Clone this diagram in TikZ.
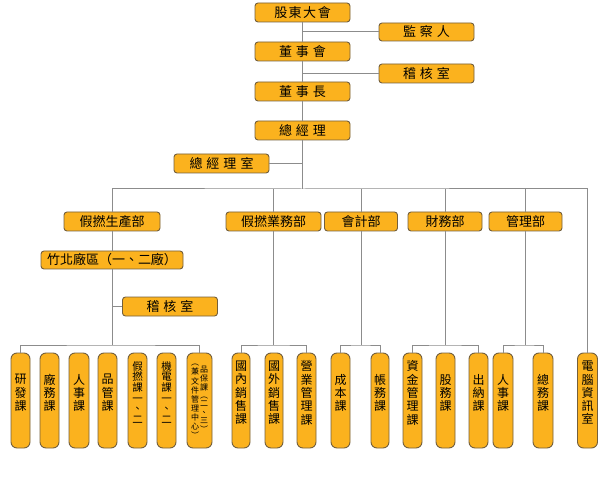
\documentclass[tikz,border=0pt]{standalone}
\usepackage{fontspec}
\setmainfont{Noto Sans CJK TC}
\definecolor{boxfill}{RGB}{251,178,30}
\definecolor{boxline}{RGB}{115,95,60}
\definecolor{linegray}{RGB}{140,140,140}
\newcommand{\gap}{\hspace{4pt}}

\begin{document}
\begin{tikzpicture}[
  x=1pt, y=-1pt,
  box/.style={
    draw=boxline, fill=boxfill, rounded corners=3pt, line width=0.9pt,
    inner sep=0pt, minimum height=19pt
  },
  topbox/.style={
    box, minimum width=95pt, font=\fontsize{13}{15}\selectfont
  },
  deptbox/.style={
    box, font=\fontsize{13}{15}\selectfont
  },
  unitbox/.style={
    box, rounded corners=6pt, minimum width=19pt, minimum height=95pt,
    align=center, font=\fontsize{12}{13.3}\selectfont,
    execute at end node={\rule[-16pt]{0pt}{16pt}}
  },
  smallunit/.style={
    unitbox, font=\fontsize{10.5}{10.7}\selectfont
  },
  wire/.style={
    draw=linegray, line width=1pt
  },
]
\useasboundingbox (0,0) rectangle (600,481);

% Board and management chain
\node[topbox] (gudong) at (302.5,12.5) {股\hspace{1.5pt}東\hspace{1.5pt}大\hspace{1.5pt}會};
\node[topbox, minimum height=18pt] (jiancha) at (426.5,32) {監\gap 察\gap 人};
\node[topbox] (dongshihui) at (302.5,51.5) {董\gap 事\gap 會};
\node[topbox] (jihe) at (426.5,73.5) {稽\gap 核\gap 室};
\node[topbox] (dongshizhang) at (302.5,91.5) {董\gap 事\gap 長};
\node[topbox] (zongjingli) at (302.5,130.5) {總\gap 經\gap 理};
\node[topbox] (zjlshi) at (221.5,163.5) {總\gap 經\gap 理\gap 室};

% Departments
\node[deptbox, minimum width=96pt] (shengchan) at (112,221.5) {假撚生產部};
\node[deptbox, minimum width=95pt] (yewu) at (273.5,221.5) {假撚業務部};
\node[deptbox, minimum width=73pt] (kuaiji) at (361,221.5) {會計部};
\node[deptbox, minimum width=74pt] (caiwu) at (445,221.5) {財務部};
\node[deptbox, minimum width=73pt] (guanli) at (525.5,221.5) {管理部};

% Production plant and its audit office
\node[deptbox, minimum width=142pt, minimum height=18pt] (zhubei) at (112,260) {竹北廠區（一、二廠）};
\node[topbox] (jihe2) at (170,306.5) {稽\gap 核\gap 室};

% Sections -- production
\node[unitbox] (yanfa) at (20.5,400.5) {研\\發\\課};
\node[unitbox] (changwu) at (49.5,400.5) {廠\\務\\課};
\node[unitbox, minimum width=20pt] (renshi1) at (79,400.5) {人\\事\\課};
\node[unitbox] (pinguan) at (107.5,400.5) {品\\管\\課};
\node[smallunit] (jianian) at (137.5,400.5) {假\\撚\\課\\一\\、\\二};
\node[smallunit] (jidian) at (166.5,400.5) {機\\電\\課\\一\\、\\二};
\node[unitbox, minimum width=25pt, font=\fontsize{8}{8.2}\selectfont] (pinbao) at (199.5,400.5) {%
  \begin{tabular}[c]{@{}c@{}}︵\\兼\\文\\件\\管\\理\\中\\心\\︶\end{tabular}\hspace{1pt}%
  \begin{tabular}[c]{@{}c@{}}品\\保\\課\\︵\\二\\、\\三\\︶\end{tabular}%
};

% Sections -- sales
\node[unitbox, minimum width=18pt] (guonei) at (241,400.5) {國\\內\\銷\\售\\課};
\node[unitbox, minimum width=18pt] (guowai) at (274,400.5) {國\\外\\銷\\售\\課};
\node[unitbox] (yingye) at (306.5,400.5) {營\\業\\管\\理\\課};

% Sections -- accounting, finance, administration
\node[unitbox] (chengben) at (340.5,400.5) {成\\本\\課};
\node[unitbox, minimum width=18pt] (zhangwu) at (380,400.5) {帳\\務\\課};
\node[unitbox] (zijin) at (412.5,400.5) {資\\金\\管\\理\\課};
\node[unitbox] (guwu) at (445.5,400.5) {股\\務\\課};
\node[unitbox] (chuna) at (478.5,400.5) {出\\納\\課};
\node[unitbox, minimum width=20pt] (renshi2) at (503,400.5) {人\\事\\課};
\node[unitbox, minimum width=20pt] (zongwu) at (543,400.5) {總\\務\\課};
\node[unitbox, minimum width=20pt] (diannao) at (587.5,400.5) {電\\腦\\資\\訊\\室};

% Connectors -- top chain
\draw[wire] (gudong.south) -- (dongshihui.north);
\draw[wire] (dongshihui.south) -- (dongshizhang.north);
\draw[wire] (dongshizhang.south) -- (zongjingli.north);
\draw[wire] (gudong.south |- jiancha.west) -- (jiancha.west);
\draw[wire] (dongshihui.south |- jihe.west) -- (jihe.west);
\draw[wire] (zjlshi.east) -- (zongjingli.south |- zjlshi.east);

% Connectors -- department bus
\coordinate (topbus) at (302.5,189);
\draw[wire] (zongjingli.south) -- (topbus);
\draw[wire] (shengchan.north) |- (topbus) -| (diannao.north);
\draw[wire] (yewu.north) -- (yewu.north |- topbus);
\draw[wire] (kuaiji.north) -- (kuaiji.north |- topbus);
\draw[wire] (caiwu.north) -- (caiwu.north |- topbus);
\draw[wire] (guanli.north) -- (guanli.north |- topbus);

% Connectors -- production
\coordinate (prodbus) at (112,345);
\draw[wire] (shengchan.south) -- (zhubei.north);
\draw[wire] (zhubei.south) -- (prodbus);
\draw[wire] (prodbus |- jihe2.west) -- (jihe2.west);
\draw[wire] (yanfa.north) |- (prodbus) -| (pinbao.north);

% Connectors -- other departments
\coordinate (salesbus) at (273.5,345);
\draw[wire] (yewu.south) -- (salesbus);
\draw[wire] (guonei.north) |- (salesbus) -| (yingye.north);
\coordinate (acctbus) at (361,345);
\draw[wire] (kuaiji.south) -- (acctbus);
\draw[wire] (chengben.north) |- (acctbus) -| (zhangwu.north);
\coordinate (finbus) at (445,345);
\draw[wire] (caiwu.south) -- (finbus);
\draw[wire] (zijin.north) |- (finbus) -| (chuna.north);
\coordinate (adminbus) at (525.5,345);
\draw[wire] (guanli.south) -- (adminbus);
\draw[wire] (renshi2.north) |- (adminbus) -| (zongwu.north);

\end{tikzpicture}
\end{document}
